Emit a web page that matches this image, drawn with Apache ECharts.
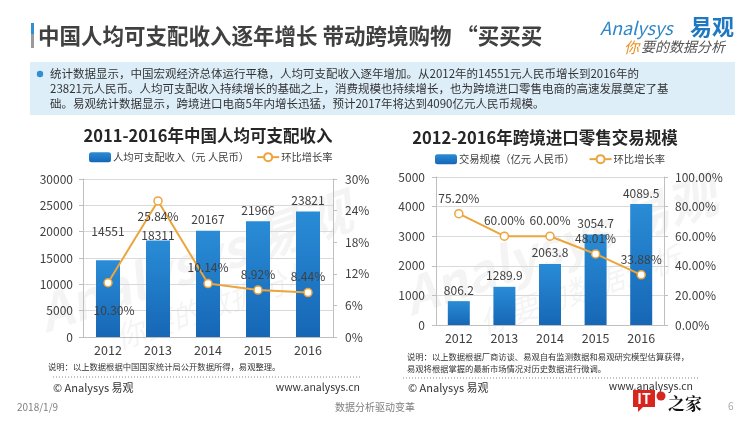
<!DOCTYPE html>
<html><head><meta charset="utf-8">
<script src="https://cdn.jsdelivr.net/npm/echarts@6/dist/echarts.min.js"></script>
<style>html,body{margin:0;padding:0;background:#fff}#c{width:750px;height:422px}</style>
</head><body><div id="c"></div>
<script>
// ---- data ----
const years = ['2012', '2013', '2014', '2015', '2016'];
const incomeValues = [14551, 18311, 20167, 21966, 23821];
const incomeGrowth = [10.30, 25.84, 10.14, 8.92, 8.44];
const tradeValues = [806.2, 1289.9, 2063.8, 3054.7, 4089.5];
const tradeGrowth = [75.20, 60.00, 60.00, 48.01, 33.88];
const incomeAxisLeft = { min: 0, max: 30000, interval: 5000 };
const incomeAxisRight = { min: 0, max: 30, interval: 6 };
const tradeAxisLeft = { min: 0, max: 5000, interval: 1000 };
const tradeAxisRight = { min: 0, max: 100, interval: 20 };
const incomeBarName = '人均可支配收入（元 人民币）';
const tradeBarName = '交易规模（亿元 人民币）';
const growthName = '环比增长率';

// ---- styles ----
const FONT = '"Noto Sans CJK SC","Microsoft YaHei",sans-serif';
const TXT = '#404040';
const ORANGE = '#EBA53C';
const barGrad = new echarts.graphic.LinearGradient(0, 0, 0, 1, [
  { offset: 0, color: '#2A8CD6' }, { offset: 1, color: '#1667B6' }
]);
const axisLineStyle = { show: true, lineStyle: { color: '#bfbfbf', width: 1 } };
const labelStyle = { color: TXT, fontSize: 12, fontFamily: FONT };

// per-point label adjustments (presentation only)
const incomeBarLabelOffset = { 0: [0, -18], 1: [0, 6] };
const incomeLineLabelPos = { 0: 'bottom', 1: 'bottom' };
const incomeLineLabelOffset = { 0: [6, 12] };

function barData(values, offsets) {
  return values.map((v, i) => offsets && offsets[i] ? { value: v, label: { offset: offsets[i] } } : v);
}
function lineData(values, pos, offsets) {
  return values.map((v, i) => {
    const lab = {};
    if (pos && pos[i]) lab.position = pos[i];
    if (offsets && offsets[i]) lab.offset = offsets[i];
    return Object.keys(lab).length ? { value: v, label: lab } : v;
  });
}

function yAxisCfg(gi, range, fmt, pos, margin, split) {
  return {
    type: 'value', gridIndex: gi, position: pos, min: range.min, max: range.max, interval: range.interval,
    axisLine: axisLineStyle,
    axisTick: { show: true, length: 4, lineStyle: { color: '#bfbfbf' } },
    axisLabel: Object.assign({ margin: margin, formatter: fmt }, labelStyle),
    splitLine: { show: split, lineStyle: { color: '#d9d9d9', width: 1 } }
  };
}

const lineSeriesBase = {
  type: 'line', symbol: 'circle', symbolSize: 8,
  lineStyle: { color: ORANGE, width: 2 },
  itemStyle: { color: '#fff', borderColor: ORANGE, borderWidth: 1.5 },
  label: { show: true, position: 'top', distance: 5, color: TXT, fontSize: 12, fontFamily: FONT },
  z: 5
};

const W = 'rgba(150,150,150,0.10)';
const chart = echarts.init(document.getElementById('c'), null, { renderer: 'canvas' });
chart.setOption({
  animation: false,
  backgroundColor: '#fff',
  textStyle: { fontFamily: FONT },
  legend: [
    { left: 89, top: 152, padding: 0, itemWidth: 22, itemHeight: 10, itemGap: 7,
      textStyle: { color: TXT, fontSize: 10.3, fontFamily: FONT, padding: [0, 0, 0, -3] },
      data: [incomeBarName, { name: growthName }], selectedMode: false },
    { left: 435, top: 154, padding: 0, itemWidth: 22, itemHeight: 10, itemGap: 14,
      textStyle: { color: TXT, fontSize: 10.3, fontFamily: FONT, padding: [0, 0, 0, -3] },
      data: [tradeBarName, { name: growthName }], selectedMode: false }
  ],
  grid: [
    { left: 83, top: 179, width: 250, height: 158 },
    { left: 436, top: 177, width: 228, height: 148 }
  ],
  xAxis: [0, 1].map(gi => ({
    type: 'category', gridIndex: gi, data: years,
    axisLine: axisLineStyle, axisTick: { show: false },
    axisLabel: Object.assign({ margin: 7 }, labelStyle, { fontSize: 12.5 })
  })),
  yAxis: [
    yAxisCfg(0, incomeAxisLeft, v => String(v), 'left', 10, true),
    yAxisCfg(0, incomeAxisRight, v => v + '%', 'right', 12, false),
    yAxisCfg(1, tradeAxisLeft, v => String(v), 'left', 11, true),
    yAxisCfg(1, tradeAxisRight, v => v.toFixed(2) + '%', 'right', 11, false)
  ],
  series: [
    { name: incomeBarName, type: 'bar', xAxisIndex: 0, yAxisIndex: 0, barWidth: 24,
      data: barData(incomeValues, incomeBarLabelOffset), itemStyle: { color: barGrad },
      label: { show: true, position: 'top', distance: 5, color: TXT, fontSize: 12, fontFamily: FONT } },
    Object.assign({}, lineSeriesBase, { name: growthName, xAxisIndex: 0, yAxisIndex: 1,
      data: lineData(incomeGrowth, incomeLineLabelPos, incomeLineLabelOffset),
      label: Object.assign({}, lineSeriesBase.label, { formatter: p => p.value.toFixed(2) + '%' }) }),
    { name: tradeBarName, type: 'bar', xAxisIndex: 1, yAxisIndex: 2, barWidth: 22,
      data: barData(tradeValues), itemStyle: { color: barGrad },
      label: { show: true, position: 'top', distance: 5, color: TXT, fontSize: 12, fontFamily: FONT,
        formatter: p => p.value.toFixed(1) } },
    Object.assign({}, lineSeriesBase, { name: growthName, xAxisIndex: 1, yAxisIndex: 3,
      data: lineData(tradeGrowth),
      label: Object.assign({}, lineSeriesBase.label, { formatter: p => p.value.toFixed(2) + '%' }) })
  ],
  graphic: [
    // watermarks
    { type: 'text', x: 195, y: 262, rotation: 0.33, z: 0, silent: true,
      style: { text: 'Analysys 易观', fill: W, font: 'italic bold 50px ' + FONT, align: 'center', verticalAlign: 'middle' } },
    { type: 'text', x: 215, y: 305, rotation: 0.33, z: 0, silent: true,
      style: { text: '你要的数据分析', fill: W, font: 'italic 30px ' + FONT, align: 'center', verticalAlign: 'middle' } },
    { type: 'text', x: 560, y: 245, rotation: 0.33, z: 0, silent: true,
      style: { text: 'Analysys 易观', fill: W, font: 'italic bold 50px ' + FONT, align: 'center', verticalAlign: 'middle' } },
    { type: 'text', x: 580, y: 290, rotation: 0.33, z: 0, silent: true,
      style: { text: '你要的数据分析', fill: W, font: 'italic 30px ' + FONT, align: 'center', verticalAlign: 'middle' } },
    // page title
    { type: 'rect', shape: { x: 31, y: 23, width: 3, height: 11 }, style: { fill: '#2E8FD3' } },
    { type: 'rect', shape: { x: 31, y: 34, width: 3, height: 14 }, style: { fill: '#9a9a9a' } },
    { type: 'text', x: 38, y: 36, style: { text: '中国人均可支配收入逐年增长 带动跨境购物 “买买买', fill: TXT,
      font: 'bold 21.5px ' + FONT, verticalAlign: 'middle' } },
    // logo
    { type: 'text', x: 600, y: 28, z: 11, style: { text: 'Analysys', fill: '#2E86C8',
      font: 'italic 18px ' + FONT, verticalAlign: 'middle' } },
    { type: 'text', x: 690, y: 27, z: 11, style: { text: '易观', fill: '#1F78C1',
      font: 'bold 22px ' + FONT, verticalAlign: 'middle' } },
    { type: 'text', x: 624, y: 47, z: 11, style: { text: '你', fill: '#E8901E',
      font: 'italic 15px ' + FONT, verticalAlign: 'middle' } },
    { type: 'text', x: 641, y: 47, z: 11, style: { text: '要的数据分析', fill: '#555',
      font: 'italic 14px ' + FONT, verticalAlign: 'middle' } },
    // info box
    { type: 'rect', shape: { x: 30, y: 62, width: 705, height: 53 }, style: { fill: '#DDEEF9' } },
    { type: 'circle', shape: { cx: 40, cy: 74, r: 3.2 }, style: { fill: '#2E8FD3' } },
    { type: 'text', x: 50, y: 74, style: { text: '统计数据显示，中国宏观经济总体运行平稳，人均可支配收入逐年增加。从2012年的14551元人民币增长到2016年的',
      fill: '#333', font: '11.5px ' + FONT, verticalAlign: 'middle' } },
    { type: 'text', x: 50, y: 89, style: { text: '23821元人民币。人均可支配收入持续增长的基础之上，消费规模也持续增长，也为跨境进口零售电商的高速发展奠定了基',
      fill: '#333', font: '11.5px ' + FONT, verticalAlign: 'middle' } },
    { type: 'text', x: 50, y: 104, style: { text: '础。易观统计数据显示，跨境进口电商5年内增长迅猛，预计2017年将达到4090亿元人民币规模。',
      fill: '#333', font: '11.5px ' + FONT, verticalAlign: 'middle' } },
    // chart titles
    { type: 'text', x: 208, y: 136, style: { text: '2011-2016年中国人均可支配收入', fill: '#262626',
      font: 'bold 16.5px ' + FONT, align: 'center', verticalAlign: 'middle' } },
    { type: 'text', x: 545, y: 138, style: { text: '2012-2016年跨境进口零售交易规模', fill: '#262626',
      font: 'bold 16.5px ' + FONT, align: 'center', verticalAlign: 'middle' } },
    // notes left
    { type: 'text', x: 48, y: 367, style: { text: '说明：以上数据根据中国国家统计局公开数据所得，易观整理。', fill: '#333',
      font: '8.3px ' + FONT, verticalAlign: 'middle' } },
    { type: 'line', shape: { x1: 53, y1: 377, x2: 362, y2: 377 }, style: { stroke: '#888', lineWidth: 1, lineDash: [1, 2] } },
    { type: 'text', x: 53, y: 388, style: { text: '© Analysys 易观', fill: '#333', font: '11px ' + FONT, verticalAlign: 'middle' } },
    { type: 'text', x: 360, y: 387, style: { text: 'www.analysys.cn', fill: '#333', font: '10.5px ' + FONT, align: 'right', verticalAlign: 'middle' } },
    // notes right
    { type: 'text', x: 407, y: 357, style: { text: '说明：以上数据根据厂商访谈、易观自有监测数据和易观研究模型估算获得，', fill: '#333',
      font: '8.3px ' + FONT, verticalAlign: 'middle' } },
    { type: 'text', x: 407, y: 369, style: { text: '易观将根据掌握的最新市场情况对历史数据进行微调。', fill: '#333',
      font: '8.3px ' + FONT, verticalAlign: 'middle' } },
    { type: 'line', shape: { x1: 403, y1: 378, x2: 698, y2: 378 }, style: { stroke: '#888', lineWidth: 1, lineDash: [1, 2] } },
    { type: 'text', x: 408, y: 388, style: { text: '© Analysys 易观', fill: '#333', font: '11px ' + FONT, verticalAlign: 'middle' } },
    { type: 'text', x: 693, y: 386, style: { text: 'www.analysys.cn', fill: '#333', font: '10.5px ' + FONT, align: 'right', verticalAlign: 'middle' } },
    // footer
    { type: 'text', x: 17, y: 407, style: { text: '2018/1/9', fill: '#7f7f7f', font: '10px ' + FONT, verticalAlign: 'middle' } },
    { type: 'text', x: 375, y: 407, style: { text: '数据分析驱动变革', fill: '#7f7f7f', font: '10px ' + FONT, align: 'center', verticalAlign: 'middle' } },
    { type: 'text', x: 728, y: 406, style: { text: '6', fill: '#aaa', font: '10px ' + FONT, verticalAlign: 'middle' } },
    // IT之家 mark
    { type: 'rect', shape: { x: 633, y: 390, width: 22, height: 17 }, style: { fill: '#D8251D' } },
    { type: 'polygon', shape: { points: [[638, 406], [644, 406], [638, 412]] }, style: { fill: '#D8251D' } },
    { type: 'text', x: 644, y: 398.5, style: { text: 'IT', fill: '#fff', font: 'bold 14px ' + FONT, align: 'center', verticalAlign: 'middle' } },
    { type: 'circle', shape: { cx: 661, cy: 396, r: 4.5 }, style: { fill: '#D8251D' } },
    { type: 'text', x: 668, y: 404, style: { text: '之家', fill: '#111', font: 'bold 17px "Noto Serif CJK SC","Noto Sans CJK SC",serif', verticalAlign: 'middle' } }
  ]
});
</script>
</body></html>
